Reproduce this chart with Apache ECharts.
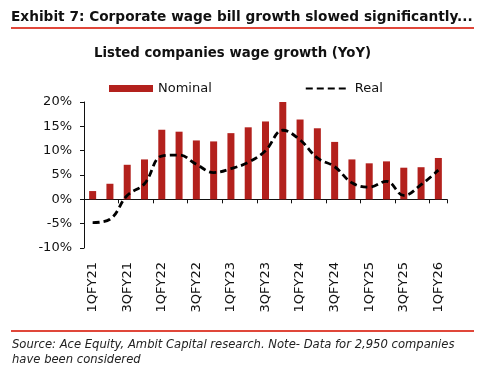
<!DOCTYPE html>
<html><head><meta charset="utf-8">
<script src="https://cdn.jsdelivr.net/npm/echarts@6/dist/echarts.min.js"></script>
<style>html,body{margin:0;padding:0;background:#fff}#c{width:494px;height:368px}</style>
</head><body><div id="c"></div>
<script>
const categories = ['1QFY21','2QFY21','3QFY21','4QFY21','1QFY22','2QFY22','3QFY22','4QFY22','1QFY23','2QFY23','3QFY23','4QFY23','1QFY24','2QFY24','3QFY24','4QFY24','1QFY25','2QFY25','3QFY25','4QFY25','1QFY26'];
const nominal = [1.7,3.2,7.1,8.2,14.3,13.9,12.1,11.9,13.6,14.8,16.0,20.1,16.4,14.6,11.8,8.2,7.4,7.8,6.5,6.6,8.5];
const real = [-4.8,-4.1,0.8,3.2,8.9,9.1,7.2,5.5,6.3,7.6,10.0,14.2,12.2,8.5,6.7,3.4,2.5,3.7,0.8,3.0,6.0];
const yTicks = {min:-10, max:20, interval:5};
const titleText = 'Exhibit 7: Corporate wage bill growth slowed significantly...';
const subtitleText = 'Listed companies wage growth (YoY)';
const sourceText = 'Source: Ace Equity, Ambit Capital research. Note- Data for 2,950 companies\nhave been considered';

const FONT = '"DejaVu Sans", sans-serif';
const chart = echarts.init(document.getElementById('c'));
chart.setOption({
  animation:false,
  textStyle:{fontFamily:FONT},
  title:[
    {text:titleText,left:6,top:5,textStyle:{fontFamily:FONT,fontWeight:'bold',fontSize:13.7,color:'#111'}},
    {text:subtitleText,left:89,top:42,textStyle:{fontFamily:FONT,fontWeight:'bold',fontSize:13.3,color:'#111'}}
  ],
  graphic:[
    {type:'rect',shape:{x:11,y:27,width:463,height:2},style:{fill:'#e0473a'}},
    {type:'rect',shape:{x:11,y:330,width:463,height:2},style:{fill:'#e0473a'}},
    {type:'text',left:12,top:337,style:{text:sourceText,font:'italic 11.6px "DejaVu Sans", sans-serif',fill:'#222',lineHeight:15}}
  ],
  legend:{
    top:77,left:104,itemGap:93,itemWidth:44,itemHeight:7,
    textStyle:{fontSize:13,color:'#111',fontFamily:FONT},
    data:[{name:'Nominal',icon:'rect'},{name:'Real',itemStyle:{opacity:0}}]
  },
  grid:{left:84,right:47,top:102,bottom:120,containLabel:false},
  xAxis:{
    type:'category',data:categories,
    axisLine:{onZero:true,lineStyle:{color:'#111',width:1}},
    axisTick:{show:true,length:4,lineStyle:{color:'#111'},alignWithLabel:false},
    axisLabel:{rotate:90,interval:1,margin:14,fontSize:13,color:'#111',fontFamily:FONT}
  },
  yAxis:{
    type:'value',min:yTicks.min,max:yTicks.max,interval:yTicks.interval,
    splitLine:{show:false},
    axisLine:{show:true,lineStyle:{color:'#111'}},
    axisTick:{show:true,length:4,lineStyle:{color:'#111'}},
    axisLabel:{formatter:'{value}%',fontSize:13,color:'#111',margin:12,fontFamily:FONT}
  },
  series:[
    {name:'Nominal',type:'bar',data:nominal,barWidth:7,itemStyle:{color:'#b3211d'}},
    {name:'Real',type:'line',data:real,smooth:0.4,symbol:'none',
     lineStyle:{color:'#000',width:2.8,type:[7,4]},itemStyle:{color:'#000'}}
  ]
});
</script></body></html>
